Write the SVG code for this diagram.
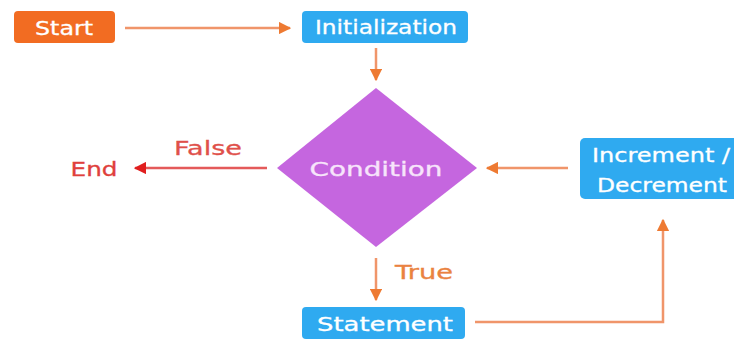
<svg xmlns="http://www.w3.org/2000/svg" width="734" height="341" viewBox="0 0 734 341">
  <style>
    .lbl { font-family: "DejaVu Sans", "Noto Sans", sans-serif; font-size: 19px; dominant-baseline: central; text-anchor: middle; stroke-width: 0.3; }
    .white { fill: #ffffff; stroke: #ffffff; }
    .box-orange { fill: #F26C22; }
    .box-blue { fill: #2FAAF0; }
    .diamond { fill: #C566DF; }
    .flow { fill: none; stroke: #F0956A; stroke-width: 2.5; }
    .flow-red { fill: none; stroke: #E45A5A; stroke-width: 2.5; }
  </style>
  <defs>
    <marker id="head" viewBox="0 0 10 10" refX="9" refY="5" markerWidth="5" markerHeight="5" orient="auto" markerUnits="strokeWidth">
      <path d="M0,0 L10,5 L0,10 Z" fill="#EE7A32"/>
    </marker>
    <marker id="head-red" viewBox="0 0 10 10" refX="9" refY="5" markerWidth="5" markerHeight="5" orient="auto" markerUnits="strokeWidth">
      <path d="M0,0 L10,5 L0,10 Z" fill="#E01E1E"/>
    </marker>
  </defs>
  <rect width="734" height="341" fill="#ffffff"/>

  <g id="connectors">
    <line class="flow" x1="125" y1="28" x2="290" y2="28" marker-end="url(#head)"/>
    <line class="flow" x1="376" y1="48" x2="376" y2="80" marker-end="url(#head)"/>
    <line class="flow-red" x1="267" y1="168" x2="135" y2="168" marker-end="url(#head-red)"/>
    <line class="flow" x1="568" y1="168" x2="487" y2="168" marker-end="url(#head)"/>
    <line class="flow" x1="376" y1="258" x2="376" y2="300" marker-end="url(#head)"/>
    <polyline class="flow" points="475,322 663,322 663,220" marker-end="url(#head)"/>
    <text class="lbl" x="208" y="148" fill="#E0504A" stroke="#E0504A" textLength="68" lengthAdjust="spacingAndGlyphs">False</text>
    <text class="lbl" x="424" y="272" fill="#EA8240" stroke="#EA8240" textLength="58" lengthAdjust="spacingAndGlyphs">True</text>
  </g>

  <g id="start">
    <rect class="box-orange" x="14" y="11" width="101" height="32" rx="4"/>
    <text class="lbl white" x="64" y="28" textLength="58" lengthAdjust="spacingAndGlyphs">Start</text>
  </g>

  <g id="initialization">
    <rect class="box-blue" x="302" y="11" width="166" height="32" rx="4"/>
    <text class="lbl white" x="386" y="27" textLength="142" lengthAdjust="spacingAndGlyphs">Initialization</text>
  </g>

  <g id="condition">
    <polygon class="diamond" points="376,88 477,168 376,247 277,168"/>
    <text class="lbl" x="376" y="169" fill="#F7E4FB" stroke="#F7E4FB" textLength="133" lengthAdjust="spacingAndGlyphs">Condition</text>
  </g>

  <g id="end">
    <text class="lbl" x="94" y="169" fill="#E0403C" stroke="#E0403C" textLength="47" lengthAdjust="spacingAndGlyphs">End</text>
  </g>

  <g id="increment">
    <rect class="box-blue" x="580" y="138" width="164" height="61" rx="5"/>
    <text class="lbl white" x="661" y="155" textLength="138" lengthAdjust="spacingAndGlyphs">Increment /</text>
    <text class="lbl white" x="662" y="185" textLength="130" lengthAdjust="spacingAndGlyphs">Decrement</text>
  </g>

  <g id="statement">
    <rect class="box-blue" x="302" y="307" width="163" height="32" rx="4"/>
    <text class="lbl white" x="385" y="324" textLength="136" lengthAdjust="spacingAndGlyphs">Statement</text>
  </g>
</svg>
